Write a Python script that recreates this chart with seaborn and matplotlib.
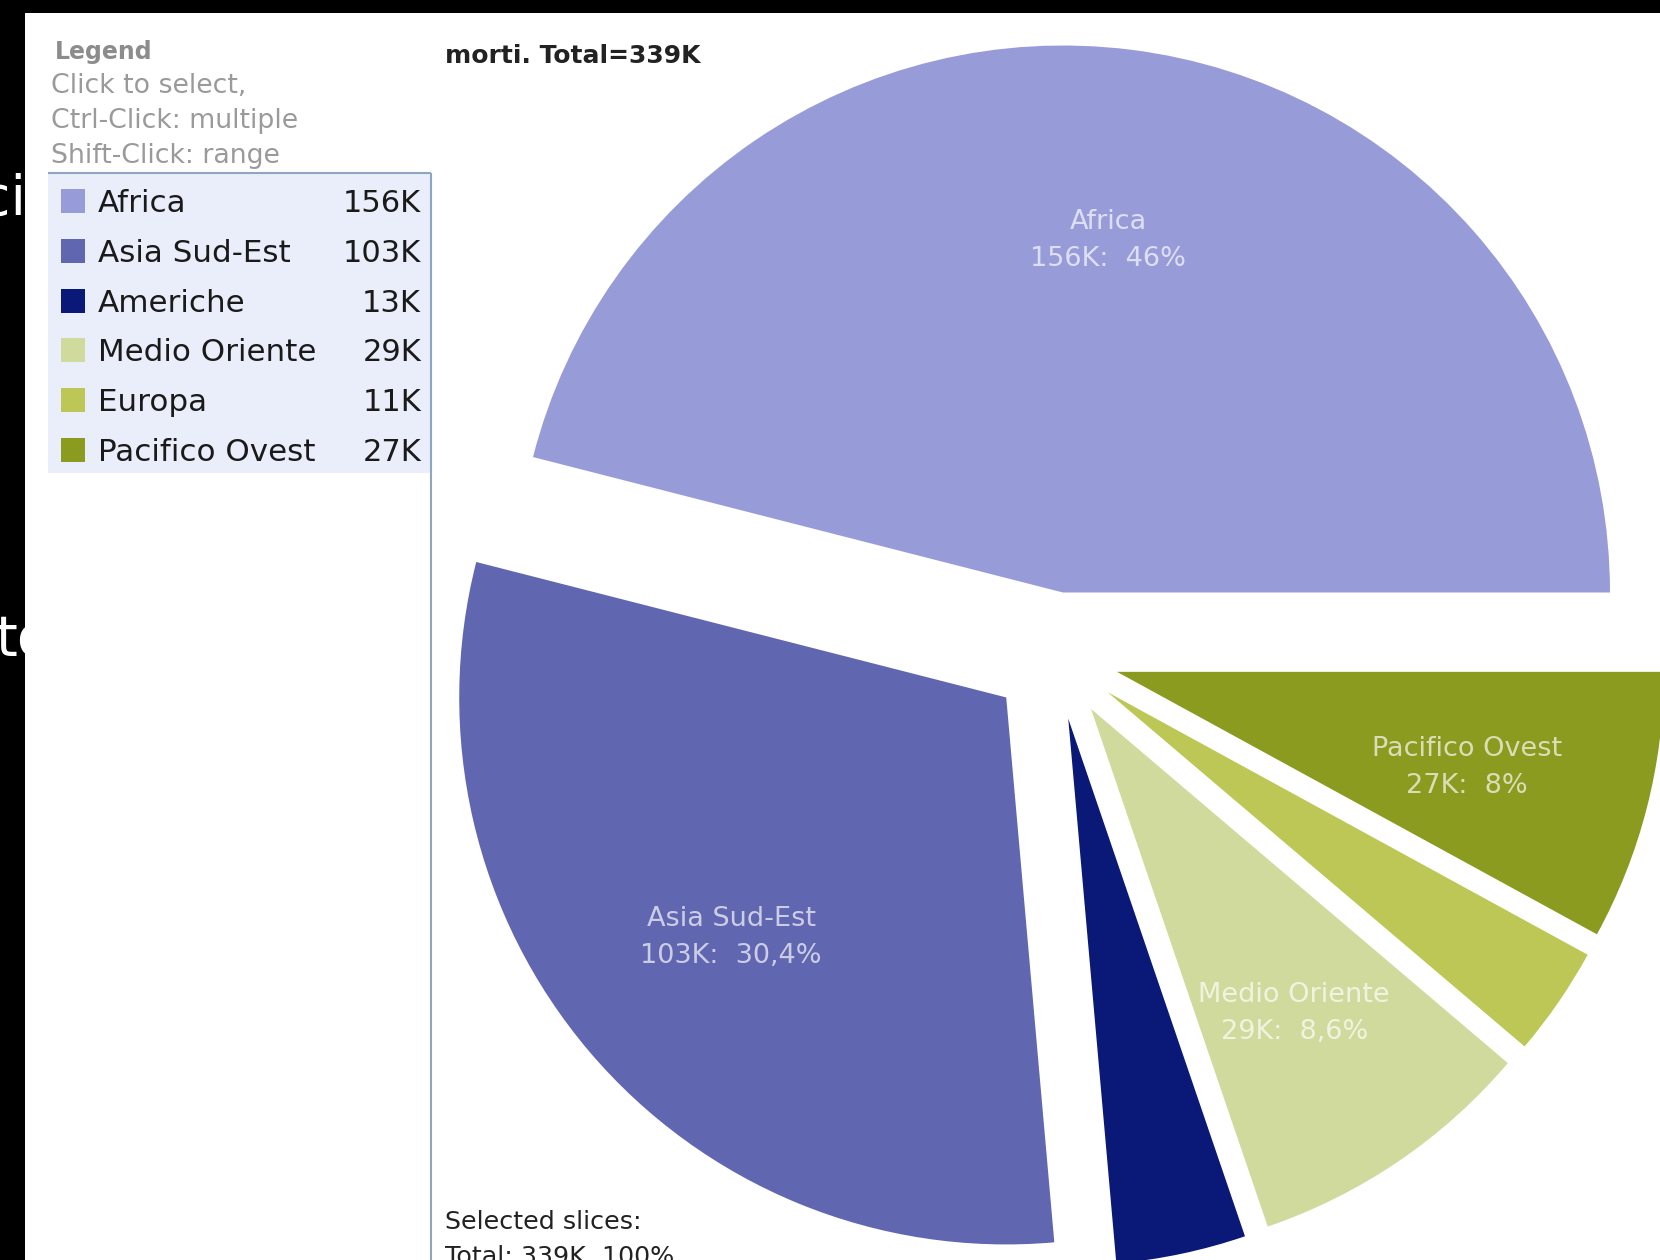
import matplotlib
matplotlib.use("Agg")
import matplotlib.pyplot as plt
import seaborn as sns
import numpy as np
from matplotlib.patches import Rectangle

# ---------------- data ----------------
regions = ["Africa", "Asia Sud-Est", "Americhe", "Medio Oriente", "Europa", "Pacifico Ovest"]
deaths_k = [156, 103, 13, 29, 11, 27]
value_labels = ["156K", "103K", "13K", "29K", "11K", "27K"]
pct_labels = ["46%", "30,4%", "", "8,6%", "", "8%"]
hex_colors = ["#979cd9", "#6166b1", "#0a1877", "#d1da9d", "#bcc755", "#8a9b1f"]
title_text = "morti. Total=339K"
legend_title = "Legend"
legend_help = ["Click to select,", "Ctrl-Click: multiple", "Shift-Click: range"]
footer_lines = ["Selected slices:", "Total: 339K, 100%"]
behind_text = ["ci", "to"]

# ---------------- style ----------------
sns.set_theme(style="white")
plt.rcParams['font.family'] = ['DejaVu Sans']
palette = sns.color_palette(hex_colors)

W, H = 1660, 1260
fig = plt.figure(figsize=(W / 100, H / 100), dpi=100, facecolor='black')
ax = fig.add_axes([0, 0, 1, 1])


def Y(y):
    return H - y


# text of the slide behind (partially covered)
ax.text(26, Y(200), behind_text[0], color='white', fontsize=40, ha='right',
        va='center', zorder=1)
ax.text(-4, Y(640), behind_text[1], color='white', fontsize=40, ha='left',
        va='center', zorder=1)

# white panel
ax.add_patch(Rectangle((25, 0), W - 25, H - 13, facecolor='white',
                       edgecolor='none', zorder=2))

# legend panel
ax.add_patch(Rectangle((48, Y(473)), 431 - 48, 473 - 173, facecolor='#e9eefa',
                       edgecolor='none', zorder=3))
ax.plot([48, 431], [Y(173), Y(173)], color='#8ea6c0', lw=1.5, zorder=4,
        solid_capstyle='butt')
ax.plot([431, 431], [Y(173), 0], color='#8ea6c0', lw=1.5, zorder=4,
        solid_capstyle='butt')

# pie
wedges, _ = ax.pie(deaths_k, colors=palette, startangle=0, counterclock=True,
                   radius=547, center=(1055, Y(656)), explode=[64] * len(deaths_k),
                   wedgeprops=dict(linewidth=0, zorder=5))
ax.set_xlim(0, W)
ax.set_ylim(0, H)
ax.set_aspect('auto')
ax.set_axis_off()

for i, w in enumerate(wedges):
    if not pct_labels[i]:
        continue
    th = np.deg2rad((w.theta1 + w.theta2) / 2)
    cx, cy = w.center
    x = cx + 0.66 * w.r * np.cos(th)
    y = cy + 0.66 * w.r * np.sin(th) - 6
    ax.text(x, y, f"{regions[i]}\n{value_labels[i]}:  {pct_labels[i]}",
            ha='center', va='center', color='white', alpha=0.68, fontsize=19.5,
            linespacing=1.55, zorder=6)

# headings
ax.text(55, Y(59), legend_title, color='#8c8c8c', fontsize=17, weight='bold',
        ha='left', va='baseline', zorder=6)
for j, line in enumerate(legend_help):
    ax.text(51, Y(93 + 35 * j), line, color='#9a9a9a', fontsize=19.3,
            ha='left', va='baseline', zorder=6)
ax.text(445, Y(63), title_text, color='#222222', fontsize=18, weight='bold',
        ha='left', va='baseline', zorder=6)

# legend rows
for i, name in enumerate(regions):
    c = 201 + 49.8 * i
    ax.add_patch(Rectangle((61, Y(c + 12)), 24, 24, facecolor=palette[i],
                           edgecolor='none', zorder=6))
    ax.text(98, Y(c + 11), name, color='#1a1a1a', fontsize=22.3, ha='left',
            va='baseline', zorder=6)
    ax.text(421, Y(c + 11), value_labels[i], color='#1a1a1a', fontsize=22,
            ha='right', va='baseline', zorder=6)

# footer
ax.text(445, Y(1229), footer_lines[0], color='#222222', fontsize=18.3,
        ha='left', va='baseline', zorder=6)
ax.text(445, Y(1264), footer_lines[1], color='#222222', fontsize=18.3,
        ha='left', va='baseline', zorder=6)

fig.savefig("out.png", dpi=100, facecolor='black')
